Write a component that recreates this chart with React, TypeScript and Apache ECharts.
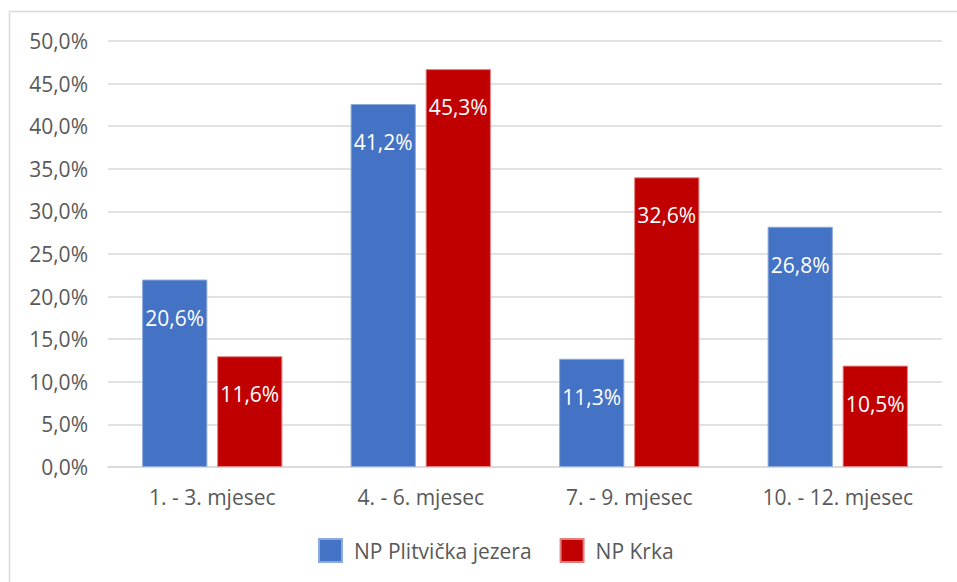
import React, { useEffect, useRef } from "react";
import * as echarts from "echarts";

const categories = ["1. - 3. mjesec", "4. - 6. mjesec", "7. - 9. mjesec", "10. - 12. mjesec"];
const seriesNames = ["NP Plitvička jezera", "NP Krka"];
// printed data labels
const plitviceLabels = [20.6, 41.2, 11.3, 26.8];
const krkaLabels = [11.6, 45.3, 32.6, 10.5];
// bar heights as drawn in the picture
const plitviceBars = [22.0, 42.6, 12.7, 28.2];
const krkaBars = [13.0, 46.7, 34.0, 11.9];
const yTicks = [0, 5, 10, 15, 20, 25, 30, 35, 40, 45, 50];

const FONT = "Open Sans";
const fmt = (v: number) => v.toFixed(1).replace(".", ",") + "%";

export default function App() {
  const ref = useRef<HTMLDivElement>(null);
  useEffect(() => {
    if (!ref.current) return;
    const chart = echarts.init(ref.current, undefined, { renderer: "svg" });
    const mk = (name: string, bars: number[], labels: number[], color: string, border: string) => ({
      name,
      type: "bar",
      data: bars,
      barWidth: "31.3%",
      barGap: "15%",
      itemStyle: { color, borderColor: border, borderWidth: 1 },
      label: {
        show: true,
        position: "insideTop",
        distance: 27.5,
        color: "#ffffff",
        fontFamily: FONT,
        fontSize: 21,
        formatter: (p: any) => fmt(labels[p.dataIndex]),
      },
    });
    chart.setOption({
      animation: false,
      textStyle: { fontFamily: FONT },
      grid: { left: 108, right: 15, top: 41, bottom: 115, containLabel: false },
      legend: {
        data: seriesNames,
        bottom: 14,
        left: 313,
        itemWidth: 23,
        itemHeight: 23,
        itemGap: 28,
        icon: "rect",
        textStyle: { color: "#595959", fontSize: 21, fontFamily: FONT, padding: [0, 0, 0, 7] },
      },
      xAxis: {
        type: "category",
        data: categories,
        axisTick: { show: false },
        axisLine: { lineStyle: { color: "#d9d9d9", width: 1.5 } },
        axisLabel: { color: "#595959", fontSize: 21, fontFamily: FONT, margin: 19 },
      },
      yAxis: {
        type: "value",
        min: yTicks[0],
        max: yTicks[yTicks.length - 1],
        interval: 5,
        axisLine: { show: false },
        axisTick: { show: false },
        splitLine: { lineStyle: { color: "#d9d9d9", width: 1.5 } },
        axisLabel: { color: "#595959", fontSize: 21, fontFamily: FONT, margin: 20, formatter: (v: number) => fmt(v) },
      },
      graphic: [
        { type: "line", shape: { x1: 9.5, y1: 11.5, x2: 957, y2: 11.5 }, style: { stroke: "#d9d9d9", lineWidth: 1.5 } },
        { type: "line", shape: { x1: 9.5, y1: 11.5, x2: 9.5, y2: 582 }, style: { stroke: "#d9d9d9", lineWidth: 1.5 } },
      ],
      series: [
        mk(seriesNames[0], plitviceBars, plitviceLabels, "#4472C4", "#8eaadc"),
        mk(seriesNames[1], krkaBars, krkaLabels, "#C00000", "#e08080"),
      ],
    });
    return () => chart.dispose();
  }, []);
  return (
    <div
      ref={ref}
      style={{ position: "absolute", left: 0, top: 0, width: 957, height: 582, background: "#fff" }}
    />
  );
}
